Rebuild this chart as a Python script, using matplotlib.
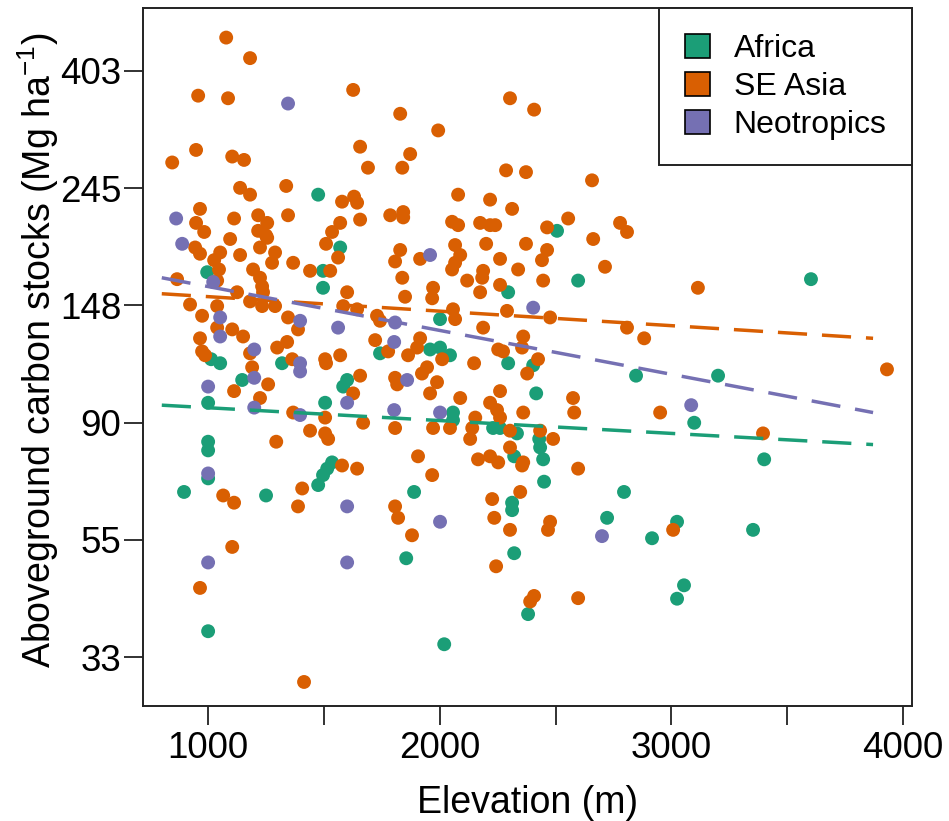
import matplotlib
matplotlib.use("Agg")
import matplotlib.pyplot as plt
from matplotlib.patches import Patch
import numpy as np

plt.rcParams['font.family'] = ['Liberation Sans', 'DejaVu Sans']
plt.rcParams['mathtext.fontset'] = 'custom'
plt.rcParams['mathtext.rm'] = 'Liberation Sans'
plt.rcParams['mathtext.default'] = 'regular'

# Africa
africa_elev = [1475, 2506, 1570, 1496, 1496, 996, 2597, 2295, 3602, 2001,
               1742, 1013, 1052, 1319, 1958, 2001, 2044, 2295, 2403, 1147,
               1600, 1583, 2847, 3201, 1000, 1505, 2416, 2057, 2057, 3098,
               2230, 2260, 2333, 2429, 2433, 2446, 2321, 1000, 1000, 1535,
               1514, 3400, 1000, 896, 1250, 1475, 1496, 1889, 2450, 2795,
               2312, 2312, 2722, 3024, 3352, 2916, 2321, 1855, 3054, 3024,
               2381, 1000, 2019]
africa_carbon = [238, 204, 190, 172, 160, 171, 165, 157, 166, 140,
                 121, 118, 116, 116, 123, 124, 120, 116, 115, 108,
                 108, 105, 110, 110, 98, 98, 102, 94, 91, 90,
                 88, 88, 86, 84, 81, 77, 78, 83, 80, 76,
                 74, 77, 71, 67, 66, 69, 72, 67, 70, 67,
                 64, 62, 60, 59, 57, 55, 51.6, 50.5, 45, 42.5,
                 39.8, 37, 35]

# SE Asia
asia_elev = [1078, 1181, 957, 1086, 1626, 1829, 948, 845, 1104, 1155,
             1656, 1872, 1690, 1838, 1337, 1138, 1181, 1578, 1630, 1643,
             965, 948, 983, 1112, 1216, 1255, 1216, 1250, 1345, 1570,
             1535, 1656, 1786, 1842, 1842, 1095, 1993, 2303, 2407, 2286,
             2372, 2657, 2079, 2217, 2312, 2053, 2079, 2174, 2217, 2239,
             2463, 2554, 2778, 2808, 2662, 944, 965, 1052, 1138, 1224,
             1255, 1289, 1276, 1367, 1440, 1527, 1509, 1561, 1829, 1807,
             1838, 1850, 1600, 1026, 1047, 1039, 866, 1194, 1224, 1233,
             1237, 1125, 1181, 1233, 1289, 922, 974, 1039, 1039, 1104,
             1151, 965, 1345, 1388, 1583, 1643, 1729, 1742, 1721, 1777,
             1863, 1181, 1298, 1341, 974, 987, 1363, 1505, 1509, 1570,
             1190, 1259, 1112, 1656, 1626, 1807, 1816, 1224, 1367, 1505,
             1669, 1807, 1440, 1505, 1518, 1294, 1578, 1643, 1915, 2066,
             2088, 2066, 2053, 2200, 2260, 2372, 2463, 2441, 2713, 2187,
             2183, 2118, 2338, 2446, 1971, 1967, 2260, 2174, 2057, 2066,
             2290, 2476, 2187, 2360, 2355, 2808, 2882, 1915, 1902, 2010,
             2252, 2273, 2424, 2377, 2148, 1945, 1923, 1988, 1958, 2088,
             2260, 2575, 2580, 2951, 2217, 2247, 2260, 2360, 2153, 2140,
             2131, 1971, 2044, 2303, 2433, 2489, 2303, 2360, 2165, 2217,
             2252, 1906, 2597, 3114, 3930, 3395, 1065, 1112, 1406, 1388,
             1807, 1820, 1880, 1104, 965, 1414, 1967, 2355, 2226, 2347,
             2235, 2303, 2476, 2467, 3007, 2243, 2407, 2390, 2597]
asia_carbon = [465, 426, 363, 359, 372, 336, 288, 273, 280, 276,
               292, 283, 267, 267, 247, 245, 238, 231, 236, 230,
               224, 211, 203, 215, 218, 211, 204, 200, 218, 211,
               203, 214, 218, 221, 216, 197, 313, 359, 342, 264,
               262, 253, 238, 233, 224, 212, 209, 211, 209, 209,
               207, 215, 211, 203, 197, 190, 185, 186, 184, 190,
               198, 186, 178, 178, 172, 172, 193, 182, 188, 179,
               167, 154, 157, 180, 173, 165, 166, 173, 167, 161,
               157, 157, 151, 148, 148, 149, 142, 148, 135, 134,
               130, 129, 141, 134, 148, 146, 142, 139, 128, 122,
               120, 121, 124, 127, 122, 120, 118, 118, 116, 120,
               114, 106, 103, 110, 102, 109, 106, 100, 94, 92,
               90, 88, 87, 86, 84, 83, 75, 74, 181, 192,
               184, 178, 173, 193, 181, 193, 188, 180, 175, 172,
               167, 165, 173, 165, 160, 153, 162, 157, 146, 140,
               145, 141, 135, 130, 124, 135, 129, 129, 124, 118,
               123, 122, 118, 111, 116, 114, 111, 107, 102, 100,
               103, 100, 94, 94, 98, 95, 92, 94, 92, 88,
               84, 88, 88, 87, 87, 84, 81, 76, 77, 78,
               76, 78, 74, 160, 113, 86, 66, 64, 68, 63,
               63, 60, 55.7, 53, 44.5, 29.8, 72, 75, 65, 67,
               60, 57, 59, 57, 57, 48.8, 43, 42, 42.6]

# Neotropics
neo_elev = [1345, 862, 888, 1022, 1052, 1052, 1397, 1561, 1807, 1803,
            1199, 1397, 1397, 1199, 1000, 1859, 1199, 1600, 1803, 1397,
            1958, 2403, 2001, 3085, 1000, 1600, 1000, 1600, 2001, 2700]
neo_carbon = [351, 215, 193, 164, 141, 130, 139, 135, 138, 127,
              123, 116, 112, 109, 105, 108, 96, 98, 95, 93,
              184, 147, 94, 97, 72.5, 63, 49.6, 49.6, 59, 55.5]

# fitted lines (endpoints)
trend_elev = [800, 3870]
africa_trend = [97, 82]
asia_trend = [156, 129]
neo_trend = [167, 94]

col_africa = '#1B9E77'
col_asia = '#D95F02'
col_neo = '#7570B3'

fig = plt.figure(figsize=(9.49, 8.21), dpi=100)
ax = fig.add_axes([0.1507, 0.1401, 0.8103, 0.8502])

ax.scatter(africa_elev, africa_carbon, s=100, color=col_africa, edgecolors='none', zorder=2)
ax.scatter(asia_elev, asia_carbon, s=100, color=col_asia, edgecolors='none', zorder=2)
ax.scatter(neo_elev, neo_carbon, s=100, color=col_neo, edgecolors='none', zorder=2)

dash = (0, (8.4, 4.3))
ax.plot(trend_elev, africa_trend, color=col_africa, lw=2.5, ls=dash, zorder=3)
ax.plot(trend_elev, asia_trend, color=col_asia, lw=2.5, ls=dash, zorder=3)
ax.plot(trend_elev, neo_trend, color=col_neo, lw=2.5, ls=dash, zorder=3)

ax.set_yscale('log')
ax.set_ylim(26.9, 527.6)
ax.set_xlim(719, 4038)

yt = np.exp([3.5, 4, 4.5, 5, 5.5, 6])
ax.set_yticks(yt)
ax.set_yticklabels([str(int(round(v))) for v in yt])
ax.yaxis.set_minor_locator(matplotlib.ticker.NullLocator())

ax.set_xticks([1000, 1500, 2000, 2500, 3000, 3500, 4000])
ax.set_xticklabels(['1000', '', '2000', '', '3000', '', '4000'])

ax.tick_params(axis='both', labelsize=26.5, length=14, width=1.3, color='#222222')
ax.tick_params(axis='x', pad=4)
ax.tick_params(axis='y', pad=1.5)
for sp in ax.spines.values():
    sp.set_linewidth(1.4)
    sp.set_color('#222222')

ax.set_xlabel('Elevation (m)', fontsize=27)
ax.set_ylabel('Aboveground carbon stocks (Mg ha$^{-1}$)', fontsize=27)
ax.xaxis.set_label_coords(0.5, -0.113)
ax.yaxis.set_label_coords(-0.107, 0.509)

handles = [Patch(facecolor=col_africa, edgecolor='black', lw=1.2, label='Africa'),
           Patch(facecolor=col_asia, edgecolor='black', lw=1.2, label='SE Asia'),
           Patch(facecolor=col_neo, edgecolor='black', lw=1.2, label='Neotropics')]
leg = ax.legend(handles=handles, loc='upper right', fontsize=23, borderaxespad=0,
                fancybox=False, framealpha=1, edgecolor='#222222', borderpad=0.8,
                handlelength=0.78, handleheight=0.78, handletextpad=0.75,
                labelspacing=0.25)
leg.get_frame().set_linewidth(1.4)

fig.savefig('out.png', dpi=100)
